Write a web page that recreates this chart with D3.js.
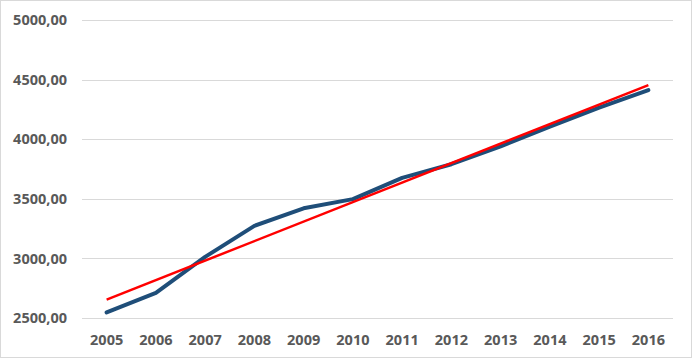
<!DOCTYPE html>
<html><head><meta charset="utf-8">
<script src="https://cdn.jsdelivr.net/npm/d3@7"></script>
<style>
html,body{margin:0;padding:0;background:#fff;}
svg{display:block;}
text{font-family:"Open Sans",sans-serif;font-weight:700;fill:#595959;}
</style></head>
<body>
<svg id="c" width="693" height="361"></svg>
<script>
const years = ["2005","2006","2007","2008","2009","2010","2011","2012","2013","2014","2015","2016"];
const values = [2547,2710,3013,3273,3420,3497,3675,3790,3940,4105,4265,4412];
const yTicks = [2500,3000,3500,4000,4500,5000];

const W=693,H=361;
const m={left:82,right:20,top:20,bottom:43};
const svg=d3.select("#c");
svg.append("rect").attr("x",0.5).attr("y",0.5).attr("width",691).attr("height",357)
  .attr("fill","#fff").attr("stroke","#d9d9d9");

const x=d3.scaleBand().domain(years).range([m.left,W-m.right]);
const y=d3.scaleLinear().domain([2500,5000]).range([H-m.bottom,m.top]);
const cx=d=>x(d)+x.bandwidth()/2;

const fmt=v=>d3.format(".2f")(v).replace(".",",");

// grid
svg.append("g").selectAll("line").data(yTicks).join("line")
  .attr("x1",m.left).attr("x2",W-m.right)
  .attr("y1",d=>Math.round(y(d))+0.5).attr("y2",d=>Math.round(y(d))+0.5)
  .attr("stroke","#d9d9d9").attr("stroke-width",1);

const yAxis=d3.axisLeft(y).tickValues(yTicks).tickFormat(fmt).tickSize(0).tickPadding(15);
const gy=svg.append("g").attr("transform",`translate(${m.left},0)`).call(yAxis);
gy.select(".domain").remove();
gy.selectAll("text").style("font-size","14.5px").attr("fill","#595959");

const xAxis=d3.axisBottom(x).tickSize(0).tickPadding(16.5);
const gx=svg.append("g").attr("transform",`translate(0,${H-m.bottom})`).call(xAxis);
gx.select(".domain").remove();
gx.selectAll("text").style("font-size","14.5px").attr("fill","#595959");

// linear trend (least squares)
const n=values.length, idx=d3.range(n);
const mx=d3.mean(idx), my=d3.mean(values);
const slope=d3.sum(idx,i=>(i-mx)*(values[i]-my))/d3.sum(idx,i=>(i-mx)*(i-mx));
const icpt=my-slope*mx;

const line=d3.line().x((d,i)=>cx(years[i])).y(d=>y(d));
svg.append("path").datum(values).attr("d",line).attr("fill","none")
  .attr("stroke","#1f4e79").attr("stroke-width",4).attr("stroke-linejoin","round").attr("stroke-linecap","round");
const trend=[icpt, icpt+slope*(n-1)];
svg.append("line").attr("x1",cx(years[0])).attr("x2",cx(years[n-1]))
  .attr("y1",y(trend[0])).attr("y2",y(trend[1]))
  .attr("stroke","#ff0000").attr("stroke-width",2.5);
</script>
</body></html>
